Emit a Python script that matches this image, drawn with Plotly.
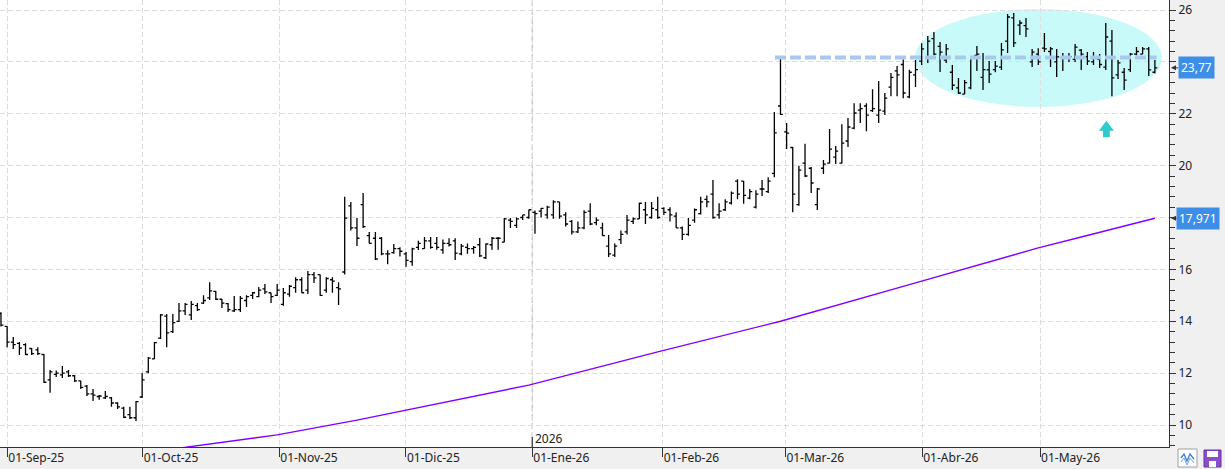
import plotly.graph_objects as go

# ---------------- data ----------------
opens = [14.30, 13.80, 13.20, 13.15, 13.10, 12.95, 12.90, 12.72, 11.74, 11.95,
         11.93, 12.05, 11.90, 11.70, 11.50, 11.20, 11.10, 11.05, 11.05, 10.85,
         10.65, 10.40, 10.28, 11.08, 12.05, 12.55, 13.35, 14.20, 13.60, 14.00,
         14.40, 14.25, 14.60, 14.70, 14.90, 15.15, 14.85, 14.68, 14.40, 14.45,
         14.80, 15.00, 14.95, 15.25, 15.10, 15.00, 14.65, 15.05, 15.30, 15.60,
         15.20, 15.80, 15.80, 15.20, 15.60, 15.30, 15.90, 18.45, 17.60, 18.50,
         17.30, 17.20, 17.20, 16.60, 16.65, 16.80, 16.60, 16.30, 16.85, 16.80,
         17.10, 17.00, 16.75, 17.00, 17.10, 16.60, 16.85, 16.80, 16.95, 16.45,
         16.95, 17.20, 17.05, 17.90, 17.70, 18.00, 18.00, 18.20, 18.25, 18.10,
         18.10, 18.60, 18.10, 17.85, 17.45, 17.60, 18.25, 17.80, 17.60, 16.90,
         16.55, 17.15, 17.45, 17.85, 17.95, 18.30, 18.00, 18.30, 18.35, 18.30,
         18.05, 17.60, 17.35, 17.90, 18.15, 18.70, 18.90, 18.10, 18.30, 18.56,
         19.40, 19.40, 18.75, 18.40, 19.10, 19.00, 19.70, 22.30, 21.30, 20.70,
         18.50, 20.10, 19.90, 18.50, 19.90, 20.10, 20.33, 20.10, 20.95, 21.45,
         22.14, 22.30, 22.12, 21.95, 22.10, 23.03, 23.65, 23.90, 22.65, 23.50,
         24.03, 24.20, 24.90, 24.60, 24.07, 23.60, 23.00, 22.76, 23.00, 24.25,
         23.40, 23.69, 23.70, 23.80, 24.80, 25.70, 25.42, 25.40, 24.00, 24.30,
         24.53, 24.40, 24.00, 24.20, 24.15, 24.10, 24.45, 24.20, 24.00, 24.10,
         23.80, 24.80, 23.50, 23.60, 23.70, 24.30, 24.30, 24.50, 23.60]
highs = [14.35, 13.82, 13.39, 13.20, 13.15, 12.97, 13.00, 12.74, 12.12, 12.10,
         12.28, 12.12, 11.93, 11.70, 11.54, 11.39, 11.16, 11.31, 11.08, 10.88,
         10.70, 10.70, 10.93, 12.01, 12.62, 13.20, 14.28, 14.28, 14.28, 14.70,
         14.70, 14.78, 14.70, 15.00, 15.50, 15.17, 14.86, 14.70, 14.97, 14.97,
         15.00, 15.13, 15.32, 15.44, 15.10, 15.44, 15.28, 15.40, 15.70, 15.70,
         15.94, 15.90, 15.80, 15.70, 15.70, 15.50, 18.80, 18.60, 17.98, 18.95,
         17.44, 17.44, 17.25, 16.74, 16.98, 16.85, 16.67, 16.83, 17.10, 17.25,
         17.25, 17.25, 17.15, 17.20, 17.20, 16.98, 17.00, 16.90, 17.21, 17.00,
         17.25, 17.25, 17.98, 17.98, 18.00, 18.10, 18.30, 18.27, 18.37, 18.45,
         18.67, 18.60, 18.20, 17.90, 17.85, 18.28, 18.55, 18.00, 17.80, 17.33,
         17.00, 17.50, 18.10, 18.00, 18.57, 18.60, 18.60, 18.80, 18.40, 18.40,
         18.20, 17.65, 17.98, 18.35, 18.80, 18.85, 19.45, 18.55, 18.70, 19.00,
         19.48, 19.41, 19.10, 19.05, 19.45, 19.55, 22.07, 24.17, 21.64, 20.72,
         20.00, 20.84, 19.95, 19.14, 20.22, 21.41, 20.76, 21.60, 21.84, 22.41,
         22.41, 22.41, 22.95, 23.26, 22.80, 23.57, 23.84, 24.10, 23.70, 24.07,
         24.72, 25.00, 25.15, 24.77, 24.69, 23.88, 23.38, 23.30, 24.19, 24.61,
         24.34, 24.03, 24.03, 24.73, 25.85, 25.88, 25.61, 25.69, 24.50, 24.53,
         25.11, 24.57, 24.50, 24.34, 24.34, 24.69, 24.50, 24.38, 24.38, 24.30,
         25.50, 25.23, 24.07, 23.76, 24.34, 24.57, 24.57, 24.57, 24.07]
lows = [13.80, 13.00, 12.93, 12.70, 12.70, 12.70, 12.70, 11.62, 11.24, 11.85,
        11.81, 11.85, 11.66, 11.39, 11.12, 10.93, 10.97, 11.00, 10.70, 10.62,
        10.27, 10.23, 10.16, 11.04, 12.00, 12.55, 13.32, 13.00, 13.55, 13.97,
        14.24, 14.05, 14.40, 14.67, 14.82, 14.82, 14.51, 14.36, 14.36, 14.36,
        14.55, 14.86, 14.93, 15.05, 14.70, 14.97, 14.60, 14.95, 15.10, 15.10,
        15.05, 15.48, 14.98, 15.10, 15.10, 14.63, 15.80, 17.50, 16.90, 17.60,
        17.00, 16.36, 16.55, 16.20, 16.60, 16.50, 16.10, 16.14, 16.75, 16.80,
        16.80, 16.76, 16.60, 16.88, 16.36, 16.55, 16.60, 16.60, 16.48, 16.40,
        16.76, 16.76, 17.05, 17.60, 17.60, 17.90, 17.95, 17.37, 18.00, 17.95,
        17.95, 17.95, 17.65, 17.35, 17.40, 17.55, 17.70, 17.70, 17.30, 16.48,
        16.48, 16.98, 17.35, 17.75, 17.94, 17.75, 17.95, 17.95, 18.10, 17.85,
        17.60, 17.13, 17.30, 17.80, 18.12, 18.40, 17.95, 17.95, 18.25, 18.50,
        18.70, 18.53, 18.70, 18.35, 18.83, 18.95, 19.55, 21.95, 20.64, 18.20,
        18.45, 19.56, 18.95, 18.29, 19.68, 20.08, 20.06, 20.08, 20.72, 21.40,
        21.64, 21.33, 22.07, 21.64, 21.95, 22.68, 22.68, 22.60, 22.60, 23.03,
        23.88, 23.96, 24.26, 23.61, 23.96, 22.92, 22.76, 22.76, 22.95, 23.65,
        22.92, 23.19, 23.60, 23.69, 24.34, 24.57, 25.04, 24.96, 23.80, 23.88,
        24.38, 23.80, 23.42, 23.65, 24.00, 24.00, 23.69, 23.88, 23.88, 23.76,
        23.69, 22.68, 23.34, 22.92, 23.61, 24.26, 24.30, 23.46, 23.55]
closes = [13.85, 13.20, 13.10, 12.97, 12.72, 12.75, 12.75, 11.65, 12.05, 12.00,
          12.00, 11.90, 11.70, 11.45, 11.20, 11.15, 11.12, 11.10, 10.85, 10.70,
          10.30, 10.28, 10.90, 11.74, 12.58, 13.18, 14.25, 13.55, 13.95, 14.40,
          14.65, 14.65, 14.45, 14.80, 15.17, 14.85, 14.70, 14.45, 14.45, 14.88,
          14.95, 15.10, 15.20, 15.13, 14.95, 15.20, 15.10, 15.35, 15.60, 15.10,
          15.80, 15.67, 15.00, 15.65, 15.55, 15.25, 17.98, 17.60, 17.20, 17.65,
          17.00, 16.40, 16.60, 16.60, 16.80, 16.70, 16.35, 16.79, 17.00, 17.10,
          16.85, 16.85, 17.00, 16.95, 16.63, 16.90, 16.80, 16.85, 16.52, 16.98,
          17.20, 17.20, 17.95, 17.85, 17.95, 18.10, 18.30, 18.15, 18.35, 18.40,
          18.60, 18.05, 17.75, 17.45, 17.60, 18.20, 17.75, 17.90, 17.30, 16.60,
          16.90, 17.35, 17.90, 17.95, 18.55, 18.10, 18.35, 18.00, 18.20, 18.10,
          17.60, 17.35, 17.70, 18.30, 18.60, 18.60, 18.00, 18.25, 18.60, 18.94,
          18.90, 18.85, 19.00, 18.90, 19.10, 19.40, 21.26, 21.98, 21.25, 18.90,
          19.83, 19.60, 19.33, 19.10, 20.06, 20.64, 20.56, 20.87, 21.49, 22.03,
          22.20, 21.95, 22.20, 22.14, 22.60, 23.40, 23.50, 22.80, 23.60, 23.70,
          24.50, 24.80, 24.30, 24.38, 24.50, 23.10, 22.80, 23.20, 24.15, 24.30,
          23.70, 23.53, 23.84, 24.46, 25.73, 24.73, 25.50, 25.27, 24.38, 24.00,
          24.50, 24.50, 24.19, 24.15, 24.20, 24.57, 24.30, 24.03, 24.20, 23.90,
          24.96, 23.38, 23.96, 23.30, 24.30, 24.40, 24.50, 23.69, 23.77]
bars = list(range(len(opens)))

# moving average (purple line), sampled at bar positions
ma_bar = [25, 30, 45, 58, 86, 107, 127, 149, 169, 176, 188]
ma_val = [8.98, 9.14, 9.62, 10.19, 11.54, 12.82, 14.00, 15.48, 16.83, 17.25, 17.971]

month_pos = [1.03, 23.09, 45.34, 65.98, 86.56, 107.8, 127.8, 150.1, 169.3]
month_text = ["01-Sep-25", "01-Oct-25", "01-Nov-25", "01-Dic-25", "01-Ene-26",
              "01-Feb-26", "01-Mar-26", "01-Abr-26", "01-May-26"]
# price axis labels (24 and 18 sit under the price tags)
price_ticks = [10, 12, 14, 16, 18, 20, 22, 24, 26]
price_text = ["10", "12", "14", "16", "", "20", "22", "", "26"]
year_pos = 86.56
year_text = "2026"

last_close = 23.77
last_close_text = "23,77"
ma_last = 17.971
ma_last_text = "17,971"
resistance = 24.17
resistance_from, resistance_to = 126.1, 188.3
zone_x = (148.9, 189.15)
zone_y = (22.26, 26.04)
arrow_bar, arrow_val = 180.1, 21.4

# ---------------- layout constants ----------------
W, H = 1225, 469
MR, MB = 56, 22
PW, PH = W - MR, H - MB
FONT = "Noto Sans"


def px_x(px):
    return px / PW


def px_y(py):
    return (PH - py) / PH


fig = go.Figure()

fig.add_trace(go.Scatter(
    x=ma_bar, y=ma_val, mode="lines", line=dict(color="#8000ff", width=1.4),
    hoverinfo="skip", showlegend=False))

fig.add_trace(go.Ohlc(
    x=bars, open=opens, high=highs, low=lows, close=closes,
    increasing=dict(line=dict(color="#000000", width=1.3)),
    decreasing=dict(line=dict(color="#000000", width=1.3)),
    tickwidth=0.4, hoverinfo="skip", showlegend=False))

shapes = []
# highlighted zone
shapes.append(dict(type="circle", xref="x", yref="y", x0=zone_x[0], x1=zone_x[1],
                   y0=zone_y[0], y1=zone_y[1], fillcolor="#c9fafa", line=dict(width=0),
                   layer="below"))
# year separator
shapes.append(dict(type="line", xref="x", yref="paper", x0=year_pos, x1=year_pos, y0=0, y1=1,
                   line=dict(color="#bdbdbd", width=1.2, dash="6px,3px"), layer="below"))
shapes.append(dict(type="line", xref="x", yref="paper", x0=year_pos, x1=year_pos, y0=0, y1=px_y(437),
                   line=dict(color="#333333", width=1.2)))
# resistance line
shapes.append(dict(type="line", xref="x", yref="y", x0=resistance_from, x1=resistance_to,
                   y0=resistance, y1=resistance, line=dict(color="#a8c8f0", width=4, dash="11px,4px"),
                   layer="above"))
# cyan arrow
shapes.append(dict(type="path", xref="x", yref="y", xsizemode="pixel", ysizemode="pixel",
                   xanchor=arrow_bar, yanchor=arrow_val,
                   path="M0,8.5 L7.5,-1.5 L3.4,-1.5 L3.4,-8 L-3.4,-8 L-3.4,-1.5 L-7.5,-1.5 Z",
                   fillcolor="#30cccc", line=dict(width=0)))
# bottom-right buttons
shapes.append(dict(type="rect", xref="paper", yref="paper", x0=px_x(1178), x1=px_x(1197),
                   y0=px_y(449), y1=px_y(467), fillcolor="#ffffff", line=dict(color="#a0a0a0", width=1)))
shapes.append(dict(type="path", xref="paper", yref="paper",
                   path="M{},{} L{},{} L{},{} L{},{} L{},{}".format(
                       px_x(1181), px_y(458), px_x(1184), px_y(454), px_x(1187), px_y(461),
                       px_x(1190), px_y(454), px_x(1194), px_y(459)),
                   line=dict(color="#3a7fd0", width=1.3)))
shapes.append(dict(type="path", xref="paper", yref="paper",
                   path="M{},{} L{},{} L{},{} L{},{} L{},{}".format(
                       px_x(1181), px_y(462), px_x(1184), px_y(458), px_x(1187), px_y(465),
                       px_x(1190), px_y(458), px_x(1194), px_y(463)),
                   line=dict(color="#6aa8e8", width=1.0)))
shapes.append(dict(type="rect", xref="paper", yref="paper", x0=px_x(1204), x1=px_x(1221),
                   y0=px_y(450), y1=px_y(467), fillcolor="#8a4fc8", line=dict(color="#6a2fa8", width=1)))
shapes.append(dict(type="rect", xref="paper", yref="paper", x0=px_x(1207), x1=px_x(1218),
                   y0=px_y(451), y1=px_y(457), fillcolor="#ffffff", line=dict(width=0)))
shapes.append(dict(type="rect", xref="paper", yref="paper", x0=px_x(1209), x1=px_x(1216),
                   y0=px_y(461), y1=px_y(467), fillcolor="#ffffff", line=dict(width=0)))

annotations = [
    dict(x=year_pos, y=px_y(438), xref="x", yref="paper", text=year_text, showarrow=False,
         xanchor="left", yanchor="middle", xshift=1, font=dict(family=FONT, size=12, color="#222222")),
    dict(x=1, y=last_close, xref="paper", yref="y", text=last_close_text, showarrow=True,
         ax=27, ay=0, arrowhead=2, arrowsize=1, arrowwidth=1, arrowcolor="#333333", standoff=2,
         bgcolor="#3d8ee6", borderpad=2, font=dict(family=FONT, size=12, color="#ffffff")),
    dict(x=1, y=ma_last, xref="paper", yref="y", text=ma_last_text, showarrow=True,
         ax=29, ay=0, arrowhead=2, arrowsize=1, arrowwidth=1, arrowcolor="#333333", standoff=2,
         bgcolor="#3d8ee6", borderpad=2, font=dict(family=FONT, size=12, color="#ffffff")),
]

fig.update_layout(
    width=W, height=H,
    margin=dict(l=0, r=MR, t=0, b=MB, pad=0),
    paper_bgcolor="#f0f0f0", plot_bgcolor="#ffffff",
    font=dict(family=FONT, size=12, color="#222222"),
    showlegend=False,
    shapes=shapes, annotations=annotations,
    xaxis=dict(range=[-0.16, 190.3], rangeslider=dict(visible=False),
               tickmode="array", tickvals=month_pos, ticktext=month_text,
               ticklabelposition="outside right",
               ticks="outside", ticklen=9, tickcolor="#333333", tickwidth=1,
               showline=True, linecolor="#333333", linewidth=1,
               showgrid=True, gridcolor="#dddddd", griddash="5px,3px", gridwidth=1,
               zeroline=False, fixedrange=True,
               tickfont=dict(family=FONT, size=12, color="#222222")),
    yaxis=dict(side="right", range=[9.153, 26.386],
               tickmode="array", tickvals=price_ticks, ticktext=price_text,
               ticks="outside", ticklen=6, tickcolor="#333333", tickwidth=1,
               showline=True, linecolor="#333333", linewidth=1,
               showgrid=True, gridcolor="#dddddd", griddash="5px,3px", gridwidth=1,
               zeroline=False, fixedrange=True,
               minor=dict(tick0=10, dtick=0.4, ticks="outside", ticklen=5, tickcolor="#333333", showgrid=False),
               tickfont=dict(family=FONT, size=12, color="#222222")),
)

fig.write_html("out.html")
